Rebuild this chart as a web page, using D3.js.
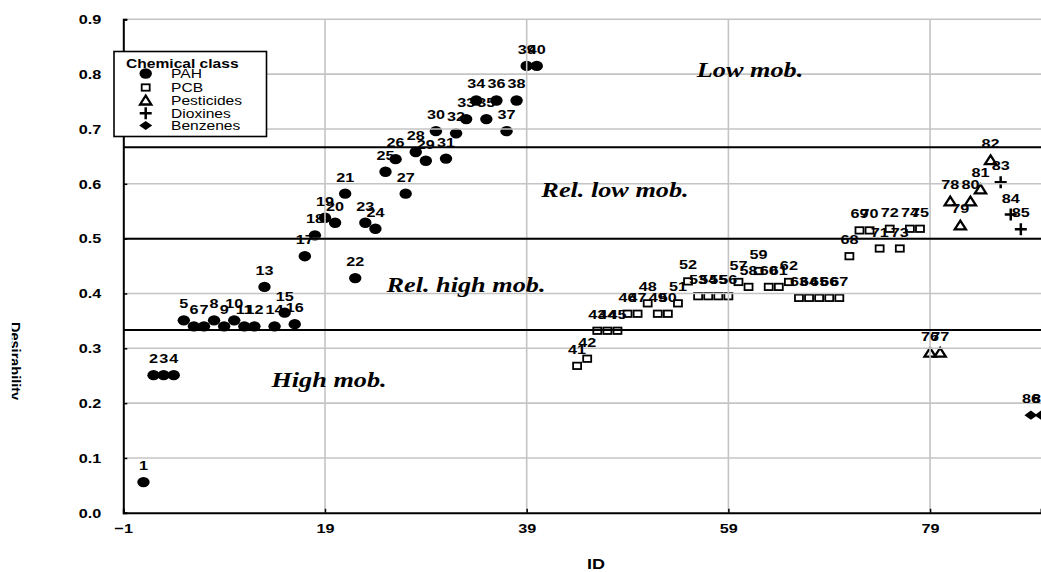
<!DOCTYPE html>
<html><head><meta charset="utf-8">
<script src="https://cdn.jsdelivr.net/npm/d3@7"></script>
<style>body{margin:0;background:#fff} svg{display:block}</style>
</head><body><svg id="c" width="1041" height="572"></svg>
<script>
// ---------------- data ----------------
const pahIds = [1,2,3,4,5,6,7,8,9,10,11,12,13,14,15,16,17,18,19,20,21,22,23,24,25,26,27,28,29,30,31,32,33,34,35,36,37,38,39,40];
const pahX   = [1,2,3,4,5,6,7,8,9,10,11,12,13,14,15,16,17,18,19,20,21,22,23,24,25,26,27,28,29,30,31,32,33,34,35,36,37,38,39,40];
const pahVal = [0.056,0.251,0.251,0.251,0.351,0.340,0.340,0.351,0.340,0.351,0.340,0.340,0.412,0.340,0.365,0.344,0.468,0.506,0.538,0.529,
                0.582,0.428,0.529,0.518,0.622,0.645,0.582,0.658,0.642,0.696,0.646,0.692,0.718,0.752,0.718,0.752,0.696,0.752,0.815,0.815];

const pcbIds = [41,42,43,44,45,46,47,48,49,50,51,52,53,54,55,56,57,58,59,60,61,62,63,64,65,66,67,68,69,70,71,72,73,74,75];
const pcbX   = [44,45,46,47,48,49,50,51,52,53,54,55,56,57,58,59,60,61,62,63,64,65,66,67,68,69,70,71,72,73,74,75,76,77,78];
const pcbVal = [0.268,0.281,0.332,0.332,0.332,0.363,0.363,0.382,0.363,0.363,0.382,0.422,0.395,0.395,0.395,0.395,0.421,0.412,0.441,0.412,
                0.412,0.421,0.392,0.392,0.392,0.392,0.392,0.468,0.515,0.515,0.482,0.518,0.482,0.518,0.518];

const pestIds = [76,77,78,79,80,81,82];
const pestX   = [79,80,81,82,83,84,85];
const pestVal = [0.292,0.292,0.568,0.524,0.568,0.590,0.643];

const dioxIds = [83,84,85];
const dioxX   = [86,87,88];
const dioxVal = [0.603,0.544,0.517];

const benzIds = [86,87];
const benzX   = [89,90];
const benzVal = [0.178,0.178];

const classNames = ["PAH","PCB","Pesticides","Dioxines","Benzenes"];
const thresholds = [1/3, 0.5, 2/3];
const regionNames = ["Low mob.","Rel. low mob.","Rel. high mob.","High mob."];
const xTickLabels = [-1,19,39,59,79];
const yTickLabels = [0,0.1,0.2,0.3,0.4,0.5,0.6,0.7,0.8,0.9];

// ---------------- layout ----------------
const svg = d3.select("#c");
const SX = 1.2; // horizontal text stretch
const x = d3.scaleLinear().domain([-1, 90]).range([123.3, 1041]);
const y = d3.scaleLinear().domain([0, 0.9]).range([512.8, 19.3]);

function stext(g, tx, ty, str, opts) {
  return g.append("text")
    .attr("transform", `translate(${tx},${ty}) scale(${opts.sx||SX},1)`)
    .attr("text-anchor", opts.anchor || "middle")
    .attr("font-family", opts.family || "'Liberation Sans', Arial, sans-serif")
    .attr("font-size", opts.size || 14)
    .attr("font-weight", opts.weight || "bold")
    .attr("font-style", opts.style || "normal")
    .attr("fill", "#000")
    .text(str);
}

function pts(ids, xs, vals, cls) { return ids.map((id,i)=>({id, x:xs[i], v:vals[i], cls})); }
const all = [].concat(
  pts(pahIds, pahX, pahVal, 0), pts(pcbIds, pcbX, pcbVal, 1), pts(pestIds, pestX, pestVal, 2),
  pts(dioxIds, dioxX, dioxVal, 3), pts(benzIds, benzX, benzVal, 4));

function drawMarker(g, cls, cx, cy) {
  if (cls === 0) {
    g.append("ellipse").attr("cx",cx).attr("cy",cy).attr("rx",6.2).attr("ry",5.2).attr("fill","#000");
  } else if (cls === 1) {
    g.append("rect").attr("x",cx-4).attr("y",cy-3.2).attr("width",8).attr("height",6.4)
      .attr("fill","#fff").attr("stroke","#000").attr("stroke-width",1.8);
  } else if (cls === 2) {
    g.append("path").attr("d",`M${cx},${cy-4.8}L${cx+5.6},${cy+4}L${cx-5.6},${cy+4}Z`)
      .attr("fill","#fff").attr("stroke","#000").attr("stroke-width",2.3);
  } else if (cls === 3) {
    g.append("path").attr("d",`M${cx-6},${cy}H${cx+6}M${cx},${cy-6}V${cy+6}`)
      .attr("stroke","#000").attr("stroke-width",2.5).attr("fill","none");
  } else {
    g.append("path").attr("d",`M${cx},${cy-4.6}L${cx+6.5},${cy}L${cx},${cy+4.6}L${cx-6.5},${cy}Z`).attr("fill","#000");
  }
}

// points
const gP = svg.append("g");
all.forEach(d => drawMarker(gP, d.cls, x(d.x), y(d.v)));

// gridlines (drawn over markers as in the reference)
const gG = svg.append("g").attr("stroke","#c4c4c4").attr("stroke-width",1.6);
yTickLabels.filter(v=>v>0).forEach(v=>{
  gG.append("line").attr("x1",x(-1)).attr("x2",1041).attr("y1",y(v)).attr("y2",y(v));
});
xTickLabels.filter(v=>v>-1).forEach(v=>{
  gG.append("line").attr("x1",x(v)).attr("x2",x(v)).attr("y1",y(0)).attr("y2",y(0.9));
});

// threshold lines
const gT = svg.append("g").attr("stroke","#000").attr("stroke-width",2);
thresholds.forEach(v=>{
  gT.append("line").attr("x1",x(-1)).attr("x2",1041).attr("y1",y(v)).attr("y2",y(v));
});

// point labels
const gL = svg.append("g");
all.forEach(d => stext(gL, x(d.x), y(d.v) - 12, String(d.id), {size:13.5}));

// axes
const yMinor = d3.range(0, 0.9001, 0.025);
const xMinor = d3.range(-1, 91, 4);
const gy = svg.append("g").attr("transform",`translate(${x(-1)},0)`);
gy.call(d3.axisLeft(y).tickValues(yMinor).tickSize(-4).tickFormat(""));
gy.call(d3.axisLeft(y).tickValues(yTickLabels).tickSize(-4).tickPadding(22).tickFormat(d3.format(".1f")));
gy.selectAll("path.domain").attr("stroke-width",2);
gy.selectAll(".tick line").attr("stroke-width",1.5);
gy.selectAll(".tick text").each(function(){
  d3.select(this).attr("transform",`translate(-22,0) scale(${SX},1)`).attr("x",0)
   .attr("font-family","'Liberation Sans', Arial, sans-serif").attr("font-size",13.5).attr("font-weight","bold").attr("fill","#000");
});
const gx = svg.append("g").attr("transform",`translate(0,${y(0)})`);
gx.call(d3.axisBottom(x).tickValues(xMinor).tickSize(-4).tickFormat(""));
gx.call(d3.axisBottom(x).tickValues(xTickLabels).tickSize(-4).tickPadding(11).tickFormat(d3.format("d")));
gx.selectAll("path.domain").attr("stroke-width",2);
gx.selectAll(".tick line").attr("stroke-width",1.5);
gx.selectAll(".tick text").each(function(){
  d3.select(this).attr("transform",`translate(0,11) scale(${SX},1)`).attr("y",0)
   .attr("font-family","'Liberation Sans', Arial, sans-serif").attr("font-size",13.5).attr("font-weight","bold").attr("fill","#000");
});

// axis titles
stext(svg, 596, 569, "ID", {size:15});
svg.append("clipPath").attr("id","yclip").append("rect").attr("x",11.8).attr("y",0).attr("width",40).attr("height",572);
svg.append("g").attr("clip-path","url(#yclip)").append("text")
  .attr("transform","translate(9.5,322) rotate(90)")
  .attr("font-family","'Liberation Sans', Arial, sans-serif").attr("font-size",14.5).attr("font-weight","bold")
  .text("Desirability");

// region labels
const regionPos = [[750,77],[615,197],[466,292],[329,387]];
regionNames.forEach((s,i)=> stext(svg, regionPos[i][0], regionPos[i][1], s,
  {family:"'Liberation Serif', 'Times New Roman', serif", size:21, style:"italic", sx:1.25}));

// legend
const lg = svg.append("g");
lg.append("rect").attr("x",114).attr("y",51.5).attr("width",152.5).attr("height",85)
  .attr("fill","#fff").attr("stroke","#000").attr("stroke-width",1.6);
stext(lg, 126, 68, "Chemical class", {anchor:"start", size:13});
const legY = [73.5, 87.5, 100.5, 113.3, 125.5];
classNames.forEach((c,i)=>{
  drawMarker(lg, i, 145.7, legY[i]);
  stext(lg, 171, legY[i]+4.7, c, {anchor:"start", size:13, weight:"normal"});
});
</script></body></html>
